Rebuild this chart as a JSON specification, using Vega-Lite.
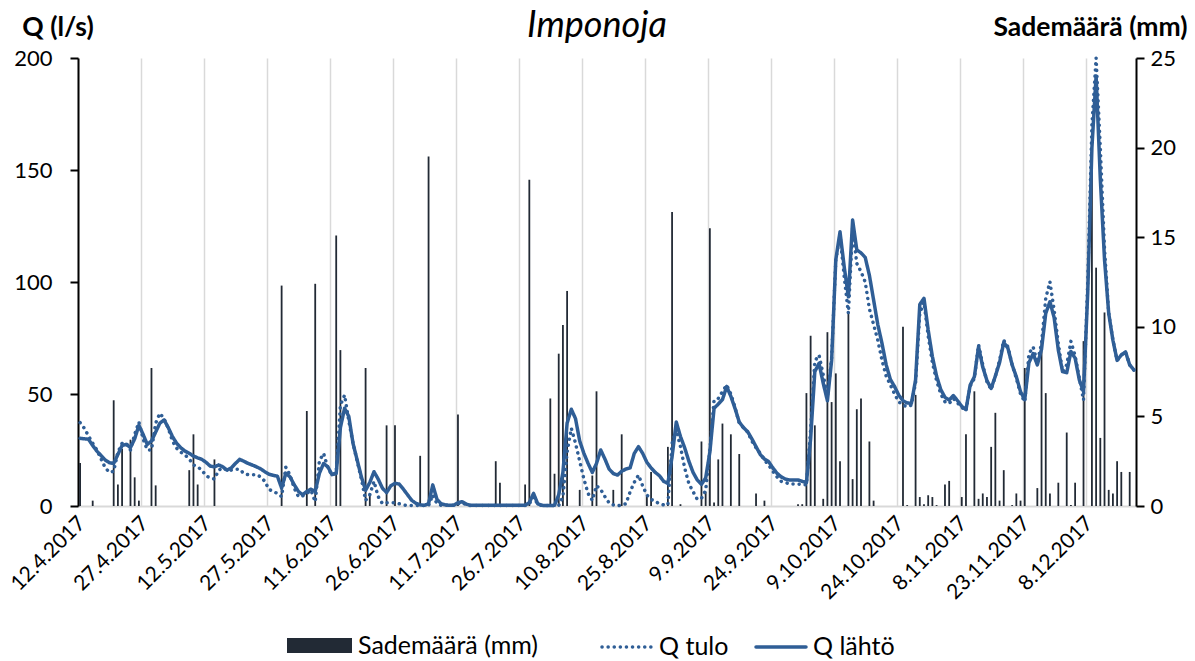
{
"$schema":"https://vega.github.io/schema/vega-lite/v6.json",
"width":1058,"height":448,
"autosize":{"type":"none"},
"padding":{"left":78,"top":58,"right":59,"bottom":155},
"background":"#ffffff",
"title":{"text":"Imponoja","font":"Lato","fontSize":36,"fontStyle":"italic","fontWeight":"normal","color":"#000000","anchor":"middle","frame":"group","baseline":"alphabetic","offset":-59,"dx":-10},
"config":{"font":"Lato","view":{"stroke":null},"axis":{"labelFont":"Lato","titleFont":"Lato","labelColor":"#000000","titleColor":"#000000","labelFlush":false,"labelOverlap":false},"legend":{"labelFont":"Lato","labelColor":"#000000","labelLimit":400}},
"datasets":{"imponoja":[
{"pvm":"2017-04-12","sade":2.4,"Q tulo":37.2,"Q lähtö":30.2},
{"pvm":"2017-04-13","sade":0,"Q tulo":34.7,"Q lähtö":30},
{"pvm":"2017-04-14","sade":0,"Q tulo":31.3,"Q lähtö":29.8},
{"pvm":"2017-04-15","sade":0.3,"Q tulo":28,"Q lähtö":27},
{"pvm":"2017-04-16","sade":0,"Q tulo":25,"Q lähtö":24.5},
{"pvm":"2017-04-17","sade":0,"Q tulo":21,"Q lähtö":22.5},
{"pvm":"2017-04-18","sade":0,"Q tulo":17,"Q lähtö":20.5},
{"pvm":"2017-04-19","sade":0,"Q tulo":15,"Q lähtö":19.3},
{"pvm":"2017-04-20","sade":5.9,"Q tulo":15.5,"Q lähtö":19},
{"pvm":"2017-04-21","sade":1.2,"Q tulo":24,"Q lähtö":23},
{"pvm":"2017-04-22","sade":3.2,"Q tulo":28,"Q lähtö":27},
{"pvm":"2017-04-23","sade":0,"Q tulo":28,"Q lähtö":27.5},
{"pvm":"2017-04-24","sade":3.7,"Q tulo":25,"Q lähtö":26.1},
{"pvm":"2017-04-25","sade":1.6,"Q tulo":32,"Q lähtö":30},
{"pvm":"2017-04-26","sade":0.3,"Q tulo":37.5,"Q lähtö":36},
{"pvm":"2017-04-27","sade":0,"Q tulo":30,"Q lähtö":32},
{"pvm":"2017-04-28","sade":0,"Q tulo":25,"Q lähtö":27.5},
{"pvm":"2017-04-29","sade":7.7,"Q tulo":25,"Q lähtö":29},
{"pvm":"2017-04-30","sade":1.15,"Q tulo":37,"Q lähtö":33},
{"pvm":"2017-05-01","sade":0,"Q tulo":41.4,"Q lähtö":37},
{"pvm":"2017-05-02","sade":0,"Q tulo":39,"Q lähtö":38.4},
{"pvm":"2017-05-03","sade":0,"Q tulo":34.7,"Q lähtö":35},
{"pvm":"2017-05-04","sade":0,"Q tulo":29,"Q lähtö":31},
{"pvm":"2017-05-05","sade":0,"Q tulo":25.8,"Q lähtö":28},
{"pvm":"2017-05-06","sade":0,"Q tulo":24,"Q lähtö":26},
{"pvm":"2017-05-07","sade":0,"Q tulo":22.8,"Q lähtö":24.5},
{"pvm":"2017-05-08","sade":2.0,"Q tulo":21,"Q lähtö":23.5},
{"pvm":"2017-05-09","sade":4.0,"Q tulo":18.3,"Q lähtö":22.3},
{"pvm":"2017-05-10","sade":1.2,"Q tulo":17.5,"Q lähtö":21.5},
{"pvm":"2017-05-11","sade":0,"Q tulo":16,"Q lähtö":20.8},
{"pvm":"2017-05-12","sade":0,"Q tulo":13.5,"Q lähtö":19.5},
{"pvm":"2017-05-13","sade":0,"Q tulo":12.5,"Q lähtö":17.8},
{"pvm":"2017-05-14","sade":2.6,"Q tulo":12,"Q lähtö":17.5},
{"pvm":"2017-05-15","sade":0,"Q tulo":16,"Q lähtö":18.3},
{"pvm":"2017-05-16","sade":0,"Q tulo":17,"Q lähtö":17.5},
{"pvm":"2017-05-17","sade":0,"Q tulo":16,"Q lähtö":16},
{"pvm":"2017-05-18","sade":0,"Q tulo":16,"Q lähtö":17},
{"pvm":"2017-05-19","sade":0,"Q tulo":16.4,"Q lähtö":19},
{"pvm":"2017-05-20","sade":0,"Q tulo":16.4,"Q lähtö":20.8},
{"pvm":"2017-05-21","sade":0,"Q tulo":14.5,"Q lähtö":20},
{"pvm":"2017-05-22","sade":0,"Q tulo":14,"Q lähtö":19},
{"pvm":"2017-05-23","sade":0,"Q tulo":14,"Q lähtö":18.3},
{"pvm":"2017-05-24","sade":0,"Q tulo":14,"Q lähtö":17.5},
{"pvm":"2017-05-25","sade":0,"Q tulo":13,"Q lähtö":16.6},
{"pvm":"2017-05-26","sade":0,"Q tulo":11,"Q lähtö":15.3},
{"pvm":"2017-05-27","sade":0,"Q tulo":7.4,"Q lähtö":14.2},
{"pvm":"2017-05-28","sade":0,"Q tulo":6.5,"Q lähtö":13.7},
{"pvm":"2017-05-29","sade":0,"Q tulo":5.6,"Q lähtö":13.3},
{"pvm":"2017-05-30","sade":12.3,"Q tulo":4.2,"Q lähtö":8},
{"pvm":"2017-05-31","sade":0,"Q tulo":17.3,"Q lähtö":14.6},
{"pvm":"2017-06-01","sade":0,"Q tulo":13.8,"Q lähtö":13},
{"pvm":"2017-06-02","sade":0,"Q tulo":8,"Q lähtö":9.5},
{"pvm":"2017-06-03","sade":0,"Q tulo":4.2,"Q lähtö":6.5},
{"pvm":"2017-06-04","sade":0,"Q tulo":4.5,"Q lähtö":5},
{"pvm":"2017-06-05","sade":5.3,"Q tulo":5.6,"Q lähtö":6.5},
{"pvm":"2017-06-06","sade":0,"Q tulo":7,"Q lähtö":7.5},
{"pvm":"2017-06-07","sade":12.4,"Q tulo":1.9,"Q lähtö":6.5},
{"pvm":"2017-06-08","sade":0,"Q tulo":20.2,"Q lähtö":14.6},
{"pvm":"2017-06-09","sade":0,"Q tulo":23.5,"Q lähtö":19},
{"pvm":"2017-06-10","sade":0,"Q tulo":17,"Q lähtö":17.5},
{"pvm":"2017-06-11","sade":0,"Q tulo":13.8,"Q lähtö":14},
{"pvm":"2017-06-12","sade":15.1,"Q tulo":15,"Q lähtö":14.5},
{"pvm":"2017-06-13","sade":8.7,"Q tulo":45,"Q lähtö":35},
{"pvm":"2017-06-14","sade":0,"Q tulo":49.5,"Q lähtö":43.6},
{"pvm":"2017-06-15","sade":0,"Q tulo":38,"Q lähtö":40},
{"pvm":"2017-06-16","sade":0,"Q tulo":28,"Q lähtö":28},
{"pvm":"2017-06-17","sade":0,"Q tulo":20,"Q lähtö":20.5},
{"pvm":"2017-06-18","sade":0,"Q tulo":12,"Q lähtö":13},
{"pvm":"2017-06-19","sade":7.7,"Q tulo":2.5,"Q lähtö":7},
{"pvm":"2017-06-20","sade":0.7,"Q tulo":5,"Q lähtö":10.5},
{"pvm":"2017-06-21","sade":0,"Q tulo":11,"Q lähtö":15.3},
{"pvm":"2017-06-22","sade":0,"Q tulo":4.2,"Q lähtö":12},
{"pvm":"2017-06-23","sade":0,"Q tulo":1.1,"Q lähtö":8},
{"pvm":"2017-06-24","sade":4.5,"Q tulo":1.4,"Q lähtö":6},
{"pvm":"2017-06-25","sade":0,"Q tulo":1.4,"Q lähtö":9},
{"pvm":"2017-06-26","sade":4.5,"Q tulo":1.4,"Q lähtö":10.1},
{"pvm":"2017-06-27","sade":0,"Q tulo":1,"Q lähtö":9.8},
{"pvm":"2017-06-28","sade":0,"Q tulo":0.5,"Q lähtö":7.5},
{"pvm":"2017-06-29","sade":0,"Q tulo":0.2,"Q lähtö":5},
{"pvm":"2017-06-30","sade":0,"Q tulo":0.2,"Q lähtö":2.5},
{"pvm":"2017-07-01","sade":0,"Q tulo":0.2,"Q lähtö":1.2},
{"pvm":"2017-07-02","sade":2.8,"Q tulo":0.2,"Q lähtö":0.5},
{"pvm":"2017-07-03","sade":0,"Q tulo":0.2,"Q lähtö":0.3},
{"pvm":"2017-07-04","sade":19.5,"Q tulo":0.2,"Q lähtö":1},
{"pvm":"2017-07-05","sade":0,"Q tulo":5,"Q lähtö":9.4},
{"pvm":"2017-07-06","sade":0,"Q tulo":1,"Q lähtö":3},
{"pvm":"2017-07-07","sade":0,"Q tulo":0.3,"Q lähtö":1},
{"pvm":"2017-07-08","sade":0,"Q tulo":0.3,"Q lähtö":0.5},
{"pvm":"2017-07-09","sade":0,"Q tulo":0.3,"Q lähtö":0.3},
{"pvm":"2017-07-10","sade":0,"Q tulo":0.3,"Q lähtö":0.3},
{"pvm":"2017-07-11","sade":5.1,"Q tulo":1,"Q lähtö":1.5},
{"pvm":"2017-07-12","sade":0,"Q tulo":1.5,"Q lähtö":1.9},
{"pvm":"2017-07-13","sade":0,"Q tulo":0.5,"Q lähtö":0.8},
{"pvm":"2017-07-14","sade":0,"Q tulo":0.2,"Q lähtö":0.3},
{"pvm":"2017-07-15","sade":0,"Q tulo":0.2,"Q lähtö":0.3},
{"pvm":"2017-07-16","sade":0,"Q tulo":0.2,"Q lähtö":0.3},
{"pvm":"2017-07-17","sade":0,"Q tulo":0.2,"Q lähtö":0.3},
{"pvm":"2017-07-18","sade":0,"Q tulo":0.2,"Q lähtö":0.3},
{"pvm":"2017-07-19","sade":0,"Q tulo":0.2,"Q lähtö":0.3},
{"pvm":"2017-07-20","sade":2.5,"Q tulo":0.2,"Q lähtö":0.3},
{"pvm":"2017-07-21","sade":1.3,"Q tulo":0.2,"Q lähtö":0.3},
{"pvm":"2017-07-22","sade":0,"Q tulo":0.2,"Q lähtö":0.3},
{"pvm":"2017-07-23","sade":0,"Q tulo":0.2,"Q lähtö":0.3},
{"pvm":"2017-07-24","sade":0,"Q tulo":0.2,"Q lähtö":0.3},
{"pvm":"2017-07-25","sade":0,"Q tulo":0.2,"Q lähtö":0.3},
{"pvm":"2017-07-26","sade":0,"Q tulo":0.2,"Q lähtö":0.3},
{"pvm":"2017-07-27","sade":1.2,"Q tulo":0.2,"Q lähtö":0.3},
{"pvm":"2017-07-28","sade":18.2,"Q tulo":1,"Q lähtö":1.5},
{"pvm":"2017-07-29","sade":0,"Q tulo":4,"Q lähtö":5.6},
{"pvm":"2017-07-30","sade":0,"Q tulo":0.8,"Q lähtö":1},
{"pvm":"2017-07-31","sade":0,"Q tulo":0.2,"Q lähtö":0.3},
{"pvm":"2017-08-01","sade":0,"Q tulo":0.2,"Q lähtö":0.2},
{"pvm":"2017-08-02","sade":6.0,"Q tulo":0.2,"Q lähtö":0.2},
{"pvm":"2017-08-03","sade":1.8,"Q tulo":0.2,"Q lähtö":0.3},
{"pvm":"2017-08-04","sade":8.5,"Q tulo":0.2,"Q lähtö":5},
{"pvm":"2017-08-05","sade":10.1,"Q tulo":4.2,"Q lähtö":15},
{"pvm":"2017-08-06","sade":12.0,"Q tulo":24,"Q lähtö":37},
{"pvm":"2017-08-07","sade":0,"Q tulo":34.7,"Q lähtö":43.2},
{"pvm":"2017-08-08","sade":0,"Q tulo":28,"Q lähtö":39},
{"pvm":"2017-08-09","sade":0.9,"Q tulo":20,"Q lähtö":29},
{"pvm":"2017-08-10","sade":0,"Q tulo":12,"Q lähtö":23.5},
{"pvm":"2017-08-11","sade":0,"Q tulo":5.6,"Q lähtö":19},
{"pvm":"2017-08-12","sade":1.7,"Q tulo":2.5,"Q lähtö":15},
{"pvm":"2017-08-13","sade":6.4,"Q tulo":9.1,"Q lähtö":19},
{"pvm":"2017-08-14","sade":0,"Q tulo":7.4,"Q lähtö":25},
{"pvm":"2017-08-15","sade":0,"Q tulo":4.2,"Q lähtö":21},
{"pvm":"2017-08-16","sade":0,"Q tulo":1.4,"Q lähtö":16.5},
{"pvm":"2017-08-17","sade":0.9,"Q tulo":0.5,"Q lähtö":14.5},
{"pvm":"2017-08-18","sade":0,"Q tulo":0,"Q lähtö":13.8},
{"pvm":"2017-08-19","sade":4.0,"Q tulo":0.5,"Q lähtö":15.5},
{"pvm":"2017-08-20","sade":0,"Q tulo":1,"Q lähtö":16.5},
{"pvm":"2017-08-21","sade":0,"Q tulo":6.3,"Q lähtö":17},
{"pvm":"2017-08-22","sade":0,"Q tulo":10.6,"Q lähtö":23.5},
{"pvm":"2017-08-23","sade":0,"Q tulo":13.8,"Q lähtö":26.5},
{"pvm":"2017-08-24","sade":0,"Q tulo":9,"Q lähtö":23.5},
{"pvm":"2017-08-25","sade":0.6,"Q tulo":4.9,"Q lähtö":19.5},
{"pvm":"2017-08-26","sade":1.9,"Q tulo":3,"Q lähtö":17},
{"pvm":"2017-08-27","sade":0,"Q tulo":2,"Q lähtö":15},
{"pvm":"2017-08-28","sade":0,"Q tulo":1,"Q lähtö":13.5},
{"pvm":"2017-08-29","sade":0,"Q tulo":0.5,"Q lähtö":11},
{"pvm":"2017-08-30","sade":3.3,"Q tulo":0.5,"Q lähtö":10.1},
{"pvm":"2017-08-31","sade":16.4,"Q tulo":28,"Q lähtö":22},
{"pvm":"2017-09-01","sade":0,"Q tulo":34,"Q lähtö":37.5},
{"pvm":"2017-09-02","sade":0.1,"Q tulo":26.5,"Q lähtö":31},
{"pvm":"2017-09-03","sade":0,"Q tulo":17,"Q lähtö":26},
{"pvm":"2017-09-04","sade":0,"Q tulo":10,"Q lähtö":20},
{"pvm":"2017-09-05","sade":0,"Q tulo":6.4,"Q lähtö":15},
{"pvm":"2017-09-06","sade":0,"Q tulo":3,"Q lähtö":11.6},
{"pvm":"2017-09-07","sade":3.6,"Q tulo":3.4,"Q lähtö":9.7},
{"pvm":"2017-09-08","sade":0.8,"Q tulo":7,"Q lähtö":12.5},
{"pvm":"2017-09-09","sade":15.5,"Q tulo":25,"Q lähtö":24},
{"pvm":"2017-09-10","sade":0.2,"Q tulo":47.3,"Q lähtö":43.6},
{"pvm":"2017-09-11","sade":2.6,"Q tulo":48,"Q lähtö":45.5},
{"pvm":"2017-09-12","sade":4.6,"Q tulo":51.1,"Q lähtö":47.5},
{"pvm":"2017-09-13","sade":0,"Q tulo":54,"Q lähtö":53.3},
{"pvm":"2017-09-14","sade":4.0,"Q tulo":50,"Q lähtö":49},
{"pvm":"2017-09-15","sade":0,"Q tulo":44,"Q lähtö":43.5},
{"pvm":"2017-09-16","sade":2.9,"Q tulo":37,"Q lähtö":37.5},
{"pvm":"2017-09-17","sade":0,"Q tulo":35,"Q lähtö":35},
{"pvm":"2017-09-18","sade":0,"Q tulo":33,"Q lähtö":33.2},
{"pvm":"2017-09-19","sade":0,"Q tulo":29,"Q lähtö":30},
{"pvm":"2017-09-20","sade":0.7,"Q tulo":26,"Q lähtö":26.5},
{"pvm":"2017-09-21","sade":0,"Q tulo":23.5,"Q lähtö":23},
{"pvm":"2017-09-22","sade":0.3,"Q tulo":20.5,"Q lähtö":21},
{"pvm":"2017-09-23","sade":0,"Q tulo":18.3,"Q lähtö":19.8},
{"pvm":"2017-09-24","sade":0,"Q tulo":15.5,"Q lähtö":17},
{"pvm":"2017-09-25","sade":0,"Q tulo":13,"Q lähtö":14.6},
{"pvm":"2017-09-26","sade":0,"Q tulo":11,"Q lähtö":13},
{"pvm":"2017-09-27","sade":0,"Q tulo":10.5,"Q lähtö":12},
{"pvm":"2017-09-28","sade":0,"Q tulo":9.8,"Q lähtö":11.6},
{"pvm":"2017-09-29","sade":0,"Q tulo":9.8,"Q lähtö":11.6},
{"pvm":"2017-09-30","sade":0.1,"Q tulo":9.8,"Q lähtö":11.6},
{"pvm":"2017-10-01","sade":0.1,"Q tulo":9.6,"Q lähtö":11},
{"pvm":"2017-10-02","sade":6.3,"Q tulo":9.4,"Q lähtö":10.4},
{"pvm":"2017-10-03","sade":9.5,"Q tulo":34,"Q lähtö":30},
{"pvm":"2017-10-04","sade":4.5,"Q tulo":64.7,"Q lähtö":60},
{"pvm":"2017-10-05","sade":0,"Q tulo":67.4,"Q lähtö":63.7},
{"pvm":"2017-10-06","sade":0.4,"Q tulo":58.6,"Q lähtö":54.8},
{"pvm":"2017-10-07","sade":9.7,"Q tulo":49,"Q lähtö":47},
{"pvm":"2017-10-08","sade":5.8,"Q tulo":66,"Q lähtö":65},
{"pvm":"2017-10-09","sade":7.4,"Q tulo":110,"Q lähtö":110},
{"pvm":"2017-10-10","sade":2.5,"Q tulo":121,"Q lähtö":122.4},
{"pvm":"2017-10-11","sade":0,"Q tulo":102.4,"Q lähtö":106.8},
{"pvm":"2017-10-12","sade":10.8,"Q tulo":86,"Q lähtö":93.4},
{"pvm":"2017-10-13","sade":1.5,"Q tulo":124,"Q lähtö":127.7},
{"pvm":"2017-10-14","sade":5.4,"Q tulo":108.3,"Q lähtö":114.3},
{"pvm":"2017-10-15","sade":6.0,"Q tulo":104.6,"Q lähtö":113},
{"pvm":"2017-10-16","sade":0,"Q tulo":100,"Q lähtö":111},
{"pvm":"2017-10-17","sade":3.6,"Q tulo":88,"Q lähtö":103},
{"pvm":"2017-10-18","sade":0.3,"Q tulo":81,"Q lähtö":92},
{"pvm":"2017-10-19","sade":0,"Q tulo":74,"Q lähtö":81},
{"pvm":"2017-10-20","sade":0,"Q tulo":65,"Q lähtö":72.6},
{"pvm":"2017-10-21","sade":0,"Q tulo":58,"Q lähtö":63},
{"pvm":"2017-10-22","sade":0,"Q tulo":54,"Q lähtö":56.5},
{"pvm":"2017-10-23","sade":0,"Q tulo":50,"Q lähtö":53.3},
{"pvm":"2017-10-24","sade":0,"Q tulo":46.5,"Q lähtö":49.5},
{"pvm":"2017-10-25","sade":10.0,"Q tulo":45,"Q lähtö":47},
{"pvm":"2017-10-26","sade":0.05,"Q tulo":44.3,"Q lähtö":46},
{"pvm":"2017-10-27","sade":0,"Q tulo":45,"Q lähtö":45.8},
{"pvm":"2017-10-28","sade":6.2,"Q tulo":55,"Q lähtö":56.3},
{"pvm":"2017-10-29","sade":0.5,"Q tulo":86,"Q lähtö":90},
{"pvm":"2017-10-30","sade":0.1,"Q tulo":91,"Q lähtö":92.7},
{"pvm":"2017-10-31","sade":0.6,"Q tulo":76,"Q lähtö":78.6},
{"pvm":"2017-11-01","sade":0.5,"Q tulo":64,"Q lähtö":66.7},
{"pvm":"2017-11-02","sade":0.05,"Q tulo":56,"Q lähtö":58},
{"pvm":"2017-11-03","sade":0,"Q tulo":50,"Q lähtö":52},
{"pvm":"2017-11-04","sade":1.2,"Q tulo":46.5,"Q lähtö":48.5},
{"pvm":"2017-11-05","sade":1.4,"Q tulo":45.8,"Q lähtö":47.3},
{"pvm":"2017-11-06","sade":0,"Q tulo":48,"Q lähtö":49.3},
{"pvm":"2017-11-07","sade":0,"Q tulo":46,"Q lähtö":47},
{"pvm":"2017-11-08","sade":0.5,"Q tulo":44,"Q lähtö":44.5},
{"pvm":"2017-11-09","sade":4.0,"Q tulo":42.5,"Q lähtö":43},
{"pvm":"2017-11-10","sade":0,"Q tulo":53.5,"Q lähtö":54},
{"pvm":"2017-11-11","sade":6.4,"Q tulo":57,"Q lähtö":57.7},
{"pvm":"2017-11-12","sade":0.4,"Q tulo":72,"Q lähtö":71.1},
{"pvm":"2017-11-13","sade":0.7,"Q tulo":63,"Q lähtö":62},
{"pvm":"2017-11-14","sade":0.5,"Q tulo":55.5,"Q lähtö":56},
{"pvm":"2017-11-15","sade":3.3,"Q tulo":52,"Q lähtö":52.5},
{"pvm":"2017-11-16","sade":5.2,"Q tulo":58,"Q lähtö":58},
{"pvm":"2017-11-17","sade":0.3,"Q tulo":65,"Q lähtö":64},
{"pvm":"2017-11-18","sade":2.0,"Q tulo":74,"Q lähtö":73},
{"pvm":"2017-11-19","sade":0,"Q tulo":71,"Q lähtö":70.4},
{"pvm":"2017-11-20","sade":0.05,"Q tulo":63,"Q lähtö":63},
{"pvm":"2017-11-21","sade":0.7,"Q tulo":57,"Q lähtö":57.7},
{"pvm":"2017-11-22","sade":0.3,"Q tulo":50,"Q lähtö":51},
{"pvm":"2017-11-23","sade":7.7,"Q tulo":46.5,"Q lähtö":47.5},
{"pvm":"2017-11-24","sade":0,"Q tulo":68,"Q lähtö":64},
{"pvm":"2017-11-25","sade":0,"Q tulo":71,"Q lähtö":68},
{"pvm":"2017-11-26","sade":1.0,"Q tulo":64,"Q lähtö":63},
{"pvm":"2017-11-27","sade":9.1,"Q tulo":72.6,"Q lähtö":70},
{"pvm":"2017-11-28","sade":6.3,"Q tulo":92.7,"Q lähtö":86},
{"pvm":"2017-11-29","sade":0.7,"Q tulo":100.1,"Q lähtö":91.2},
{"pvm":"2017-11-30","sade":0,"Q tulo":87.5,"Q lähtö":84.1},
{"pvm":"2017-12-01","sade":1.3,"Q tulo":72.6,"Q lähtö":69.6},
{"pvm":"2017-12-02","sade":0,"Q tulo":60,"Q lähtö":60},
{"pvm":"2017-12-03","sade":4.1,"Q tulo":63,"Q lähtö":59.5},
{"pvm":"2017-12-04","sade":0.05,"Q tulo":73.5,"Q lähtö":69},
{"pvm":"2017-12-05","sade":1.3,"Q tulo":67,"Q lähtö":66},
{"pvm":"2017-12-06","sade":0,"Q tulo":57,"Q lähtö":56.3},
{"pvm":"2017-12-07","sade":9.2,"Q tulo":47.3,"Q lähtö":51},
{"pvm":"2017-12-08","sade":0,"Q tulo":100,"Q lähtö":95},
{"pvm":"2017-12-09","sade":20.8,"Q tulo":170,"Q lähtö":160},
{"pvm":"2017-12-10","sade":13.3,"Q tulo":200,"Q lähtö":192},
{"pvm":"2017-12-11","sade":3.8,"Q tulo":160,"Q lähtö":146},
{"pvm":"2017-12-12","sade":10.8,"Q tulo":115,"Q lähtö":110},
{"pvm":"2017-12-13","sade":0.9,"Q tulo":86,"Q lähtö":86},
{"pvm":"2017-12-14","sade":0.7,"Q tulo":74,"Q lähtö":74},
{"pvm":"2017-12-15","sade":2.5,"Q tulo":65,"Q lähtö":65},
{"pvm":"2017-12-16","sade":1.9,"Q tulo":67.4,"Q lähtö":67.4},
{"pvm":"2017-12-17","sade":0,"Q tulo":68.8,"Q lähtö":68.8},
{"pvm":"2017-12-18","sade":1.9,"Q tulo":63,"Q lähtö":63},
{"pvm":"2017-12-19","sade":0,"Q tulo":60.7,"Q lähtö":60.7}
]},
"data":{"name":"imponoja"},
"encoding":{
"x":{"field":"pvm","type":"temporal","scale":{"type":"utc","padding":0,"domain":[{"year":2017,"month":4,"date":11,"hours":12,"utc":true},{"year":2017,"month":12,"date":19,"hours":12,"utc":true}]},
"axis":{"title":null,"format":"%-d.%-m.%Y","labelAngle":-45,"labelFontSize":21,"labelPadding":6,"labelOffset":-4,"tickOffset":-2.1,"ticks":false,"grid":true,"gridColor":"#d9d9d9","gridWidth":1.5,"domainColor":"#d9d9d9","domainWidth":2,
"values":[{"year":2017,"month":4,"date":12,"utc":true},{"year":2017,"month":4,"date":27,"utc":true},{"year":2017,"month":5,"date":12,"utc":true},{"year":2017,"month":5,"date":27,"utc":true},{"year":2017,"month":6,"date":11,"utc":true},{"year":2017,"month":6,"date":26,"utc":true},{"year":2017,"month":7,"date":11,"utc":true},{"year":2017,"month":7,"date":26,"utc":true},{"year":2017,"month":8,"date":10,"utc":true},{"year":2017,"month":8,"date":25,"utc":true},{"year":2017,"month":9,"date":9,"utc":true},{"year":2017,"month":9,"date":24,"utc":true},{"year":2017,"month":10,"date":9,"utc":true},{"year":2017,"month":10,"date":24,"utc":true},{"year":2017,"month":11,"date":8,"utc":true},{"year":2017,"month":11,"date":23,"utc":true},{"year":2017,"month":12,"date":8,"utc":true}]}}
},
"layer":[
{"mark":{"type":"bar","size":1.8},
 "encoding":{
  "y":{"field":"sade","type":"quantitative","scale":{"domain":[0,25]},
   "axis":{"orient":"right","values":[0,5,10,15,20,25],"title":"Sademäärä (mm)","titleAngle":0,"titleX":-46,"titleY":-23,"titleAlign":"center","titleBaseline":"alphabetic","titleFontSize":26.5,"titleFontWeight":"bold","grid":false,"domain":true,"domainColor":"#000000","domainWidth":2,"tickSize":8,"tickColor":"#000000","tickWidth":2,"labelPadding":6,"labelFontSize":22,"encode":{"ticks":{"update":{"x":{"value":-8}}}}}},
  "color":{"datum":"Sademäärä (mm)","type":"nominal","scale":{"range":["#222A35"]},
   "legend":{"orient":"none","legendX":209,"legendY":555,"title":null,"padding":0,"symbolType":"M-1,-0.23H1V0.23H-1Z","symbolSize":4225,"symbolStrokeWidth":0,"symbolOpacity":1,"labelFontSize":25,"labelOffset":6}}
 }},
{"transform":[{"fold":["Q tulo","Q lähtö"],"as":["sarja","Q"]}],
 "mark":{"type":"line","color":"#2F5E96","strokeWidth":3.5,"strokeCap":"round","strokeJoin":"round"},
 "encoding":{
  "y":{"field":"Q","type":"quantitative","scale":{"domain":[0,200]},
   "axis":{"orient":"left","values":[0,50,100,150,200],"title":"Q (l/s)","titleAngle":0,"titleX":-20.5,"titleY":-23,"titleAlign":"center","titleBaseline":"alphabetic","titleFontSize":26.5,"titleFontWeight":"bold","grid":false,"domain":true,"domainColor":"#000000","domainWidth":2,"tickSize":8,"tickColor":"#000000","tickWidth":2,"labelPadding":18,"labelFontSize":22,"encode":{"ticks":{"update":{"x":{"value":8}}}}}},
  "strokeDash":{"field":"sarja","type":"nominal","scale":{"domain":["Q tulo","Q lähtö"],"range":[[0.1,6],[1,0]]},
   "legend":{"orient":"none","legendX":522,"legendY":562,"direction":"horizontal","title":null,"padding":0,"symbolType":"stroke","symbolSize":2500,"symbolStrokeWidth":3.5,"symbolStrokeColor":"#2F5E96","labelFontSize":25,"labelOffset":5,"columnPadding":20,"encode":{"symbols":{"update":{"strokeCap":{"value":"round"}}}}}}
 }}
],
"resolve":{"scale":{"y":"independent"}}
}
